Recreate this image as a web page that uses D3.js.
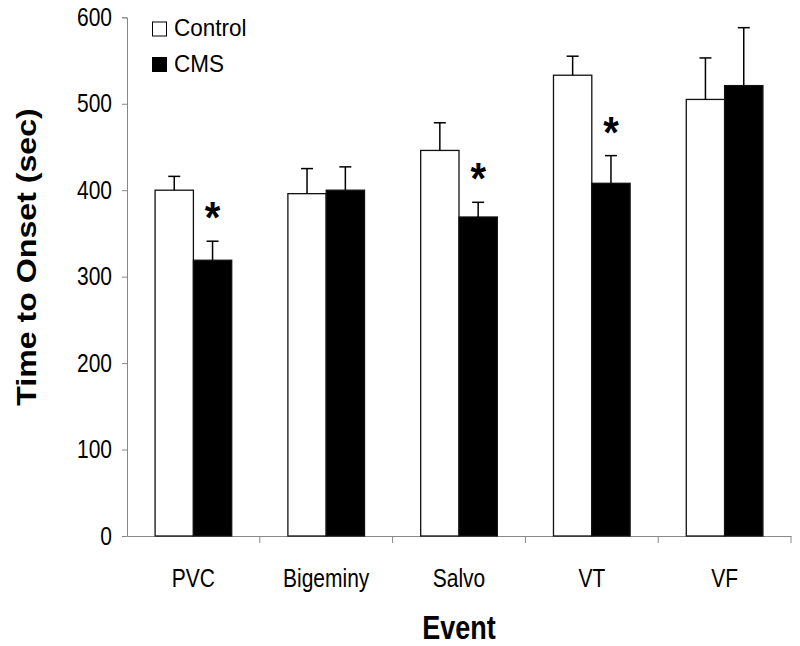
<!DOCTYPE html>
<html>
<head>
<meta charset="utf-8">
<script src="https://cdn.jsdelivr.net/npm/d3@7"></script>
<style>
  html, body { margin: 0; padding: 0; background: #fff; }
  svg { display: block; font-family: Arial, "Liberation Sans", sans-serif; }
</style>
</head>
<body>
<div id="chart"></div>
<script>
const categories = ["PVC", "Bigeminy", "Salvo", "VT", "VF"];
const seriesNames = ["Control", "CMS"];
const controlValues = [400, 396, 446, 533, 505];
const controlErrors = [16, 29, 32, 22, 48];
const cmsValues = [319, 400, 369, 408, 521];
const cmsErrors = [22, 27, 17, 32, 67];
const significant = [true, false, true, true, false];
const yTicks = [0, 100, 200, 300, 400, 500, 600];

const W = 800, H = 646;
const margin = { left: 127, right: 9, top: 17.3, bottom: 110 };
const svg = d3.select("#chart").append("svg").attr("width", W).attr("height", H);

const x0 = d3.scaleBand().domain(categories).range([margin.left, W - margin.right]).paddingInner(0).paddingOuter(0);
const x1 = d3.scaleBand().domain(seriesNames).range([0, x0.bandwidth()]).paddingInner(0).paddingOuter(0.733);
const y = d3.scaleLinear().domain([0, 600]).range([536, margin.top]);

const data = categories.map((c, i) => ({
  cat: c,
  bars: [
    { s: "Control", v: controlValues[i], e: controlErrors[i] },
    { s: "CMS", v: cmsValues[i], e: cmsErrors[i] }
  ],
  sig: significant[i]
}));

const SY = 1.2; // vertical stretch of the lettering in the reference

// Y axis
const yAxis = d3.axisLeft(y).tickValues(yTicks).tickSize(5).tickPadding(10).tickFormat(d3.format("d"));
const gy = svg.append("g").attr("transform", `translate(${margin.left},0)`).call(yAxis);
gy.select(".domain").attr("stroke", "#888").attr("stroke-width", 1);
gy.selectAll(".tick line").attr("stroke", "#888");
gy.selectAll(".tick text").attr("font-size", 21).attr("fill", "#000")
  .attr("font-family", "Arial, 'Liberation Sans', sans-serif")
  .attr("transform", `scale(1,${SY})`);

// X axis baseline and category boundary ticks
const xAxis = d3.axisBottom(x0).tickSize(0).tickPadding(28);
const gx = svg.append("g").attr("transform", `translate(0,${y(0)})`).call(xAxis);
gx.select(".domain").attr("stroke", "#888").attr("stroke-width", 1);
gx.selectAll(".tick text").attr("font-size", 21).attr("fill", "#000")
  .attr("font-family", "Arial, 'Liberation Sans', sans-serif")
  .attr("transform", `scale(1,${SY})`);
const boundaries = categories.map(c => x0(c) + x0.bandwidth());
gx.selectAll(".bound").data(boundaries).enter().append("line")
  .attr("x1", d => d).attr("x2", d => d).attr("y1", 0).attr("y2", 7)
  .attr("stroke", "#888").attr("stroke-width", 1);

// Bars
const groups = svg.append("g").selectAll("g").data(data).enter().append("g")
  .attr("transform", d => `translate(${x0(d.cat)},0)`);

groups.selectAll("rect").data(d => d.bars).enter().append("rect")
  .attr("x", d => x1(d.s))
  .attr("y", d => y(d.v))
  .attr("width", x1.bandwidth())
  .attr("height", d => y(0) - y(d.v))
  .attr("fill", d => d.s === "Control" ? "#fff" : "#000")
  .attr("stroke", "#111")
  .attr("stroke-width", 1.3);

// Error bars (upper only)
const eb = groups.selectAll("g.err").data(d => d.bars).enter().append("g").attr("class", "err");
eb.append("line")
  .attr("x1", d => x1(d.s) + x1.bandwidth() / 2)
  .attr("x2", d => x1(d.s) + x1.bandwidth() / 2)
  .attr("y1", d => y(d.v))
  .attr("y2", d => y(d.v + d.e))
  .attr("stroke", "#000").attr("stroke-width", 1.5);
eb.append("line")
  .attr("x1", d => x1(d.s) + x1.bandwidth() / 2 - 6)
  .attr("x2", d => x1(d.s) + x1.bandwidth() / 2 + 6)
  .attr("y1", d => y(d.v + d.e))
  .attr("y2", d => y(d.v + d.e))
  .attr("stroke", "#000").attr("stroke-width", 1.5);

// Significance stars
groups.filter(d => d.sig).append("text")
  .attr("transform", d => `translate(${x1("CMS") + x1.bandwidth() / 2},${y(d.bars[1].v + d.bars[1].e) - 8}) scale(1,1.1)`)
  .attr("text-anchor", "middle")
  .attr("font-size", 40)
  .attr("font-weight", "bold")
  .text("*");

// Legend
const legend = svg.append("g");
seriesNames.forEach((s, i) => {
  const ly = 22 + i * 35.5;
  legend.append("rect").attr("x", 152.5).attr("y", ly).attr("width", 14).attr("height", 14)
    .attr("fill", s === "Control" ? "#fff" : "#000").attr("stroke", "#000").attr("stroke-width", 1);
  legend.append("text").attr("transform", `translate(174,${ly + 14}) scale(1,1.06)`)
    .attr("font-size", 22.5).text(s);
});

// Axis titles
svg.append("text")
  .attr("transform", `translate(${(margin.left + W - margin.right) / 2},639) scale(1,${SY})`)
  .attr("text-anchor", "middle")
  .attr("font-size", 27)
  .attr("font-weight", "bold")
  .text("Event");

svg.append("text")
  .attr("transform", `translate(36,257) rotate(-90) scale(1.19,1)`)
  .attr("text-anchor", "middle")
  .attr("font-size", 27)
  .attr("font-weight", "bold")
  .text("Time to Onset (sec)");
</script>
</body>
</html>
